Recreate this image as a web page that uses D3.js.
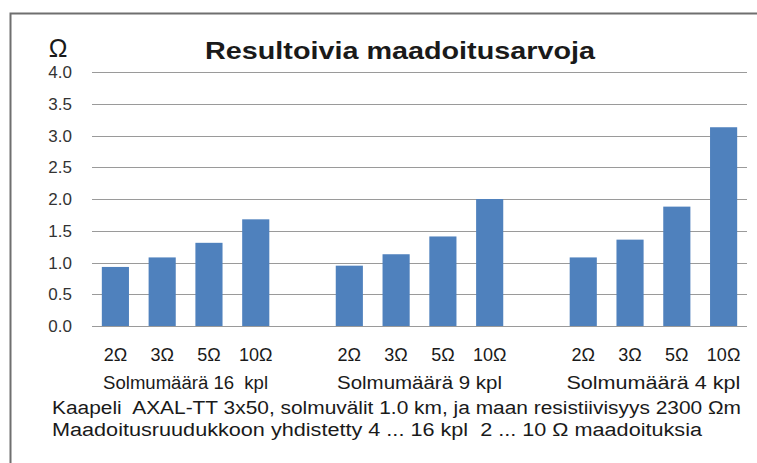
<!DOCTYPE html>
<html>
<head>
<meta charset="utf-8">
<script src="https://cdn.jsdelivr.net/npm/d3@7"></script>
<style>
  body { margin: 0; background: #fff; }
  text { font-family: "Liberation Sans", Arial, sans-serif; fill: #1a1a1a; white-space: pre; }
</style>
</head>
<body>
<div id="chart"></div>
<script>
// resistance groups (bars), empty slot between groups
var categories = ['2Ω', '3Ω', '5Ω', '10Ω'];
var groupLabels = ['Solmumäärä 16  kpl', 'Solmumäärä 9 kpl', 'Solmumäärä 4 kpl'];
var values16 = [0.93, 1.08, 1.31, 1.68];
var values9 = [0.95, 1.13, 1.41, 2.0];
var values4 = [1.08, 1.36, 1.88, 3.13];
var yTicks = [0, 0.5, 1, 1.5, 2, 2.5, 3, 3.5, 4];
var footLines = [
   'Kaapeli  AXAL-TT 3x50, solmuvälit 1.0 km, ja maan resistiivisyys 2300 Ωm',
   'Maadoitusruudukkoon yhdistetty 4 ... 16 kpl  2 ... 10 Ω maadoituksia'
];

var width = 757, height = 463;
var barColor = '#4f81bd';

var svg = d3.select('#chart').append('svg')
   .attr('width', width)
   .attr('height', height);

// frame
svg.append('path')
   .attr('d', 'M10.5,' + height + 'V13.5H' + width)
   .attr('fill', 'none')
   .attr('stroke', '#6f6f6f')
   .attr('stroke-width', 2);

// build slot list: 4 bars + gap per group
var series = [values16, values9, values4];
var slots = [], bars = [];
series.forEach(function (vals, g) {
   vals.forEach(function (v, i) {
      var key = g + '-' + i;
      slots.push(key);
      bars.push({key: key, group: g, label: categories[i], value: v});
   });
   if (g < series.length - 1) slots.push('gap' + g);
});

var x = d3.scaleBand()
   .domain(slots)
   .range([92, 747])
   .paddingInner(0.42)
   .paddingOuter(0.21);

var y = d3.scaleLinear()
   .domain([0, 4])
   .range([326, 72]);

// gridlines
svg.append('g').selectAll('line')
   .data(yTicks)
   .enter().append('line')
   .attr('x1', 92)
   .attr('x2', 747)
   .attr('y1', function (d) { return Math.round(y(d)) + 0.5; })
   .attr('y2', function (d) { return Math.round(y(d)) + 0.5; })
   .attr('stroke', '#9a9a9a')
   .attr('stroke-width', 1.2);

// y axis labels
svg.append('g').selectAll('text')
   .data(yTicks)
   .enter().append('text')
   .attr('x', 72)
   .attr('y', function (d) { return y(d); })
   .attr('dy', '0.36em')
   .attr('text-anchor', 'end')
   .style('font-size', '17px')
   .style('fill', '#333')
   .text(function (d) { return d3.format('.1f')(d); });

// unit symbol
svg.append('text')
   .attr('x', 58)
   .attr('y', 57)
   .attr('text-anchor', 'middle')
   .style('font-size', '25px')
   .text('Ω');

// title
svg.append('text')
   .attr('x', 400)
   .attr('y', 59)
   .attr('text-anchor', 'middle')
   .attr('textLength', 390)
   .attr('lengthAdjust', 'spacingAndGlyphs')
   .style('font-size', '24px')
   .style('font-weight', 'bold')
   .text('Resultoivia maadoitusarvoja');

// bars
svg.append('g').selectAll('rect')
   .data(bars)
   .enter().append('rect')
   .attr('x', function (d) { return x(d.key); })
   .attr('width', x.bandwidth())
   .attr('y', function (d) { return y(d.value); })
   .attr('height', function (d) { return y(0) - y(d.value); })
   .attr('fill', barColor);

// category labels
svg.append('g').selectAll('text')
   .data(bars)
   .enter().append('text')
   .attr('x', function (d) { return x(d.key) + x.bandwidth() / 2; })
   .attr('y', 361)
   .attr('text-anchor', 'middle')
   .style('font-size', '18px')
   .text(function (d) { return d.label; });

// group labels
var groupWidths = [165, 165, 174];
svg.append('g').selectAll('text')
   .data(groupLabels)
   .enter().append('text')
   .attr('x', function (d, g) {
      return (x(g + '-0') + x(g + '-3') + x.bandwidth()) / 2;
   })
   .attr('y', 389)
   .attr('text-anchor', 'middle')
   .attr('textLength', function (d, g) { return groupWidths[g]; })
   .attr('lengthAdjust', 'spacingAndGlyphs')
   .style('font-size', '18px')
   .text(function (d) { return d; });

// footer lines
var footWidths = [689, 650];
svg.append('g').selectAll('text')
   .data(footLines)
   .enter().append('text')
   .attr('x', 52)
   .attr('y', function (d, i) { return 414 + i * 22; })
   .attr('textLength', function (d, i) { return footWidths[i]; })
   .attr('lengthAdjust', 'spacingAndGlyphs')
   .style('font-size', '18px')
   .text(function (d) { return d; });
</script>
</body>
</html>
